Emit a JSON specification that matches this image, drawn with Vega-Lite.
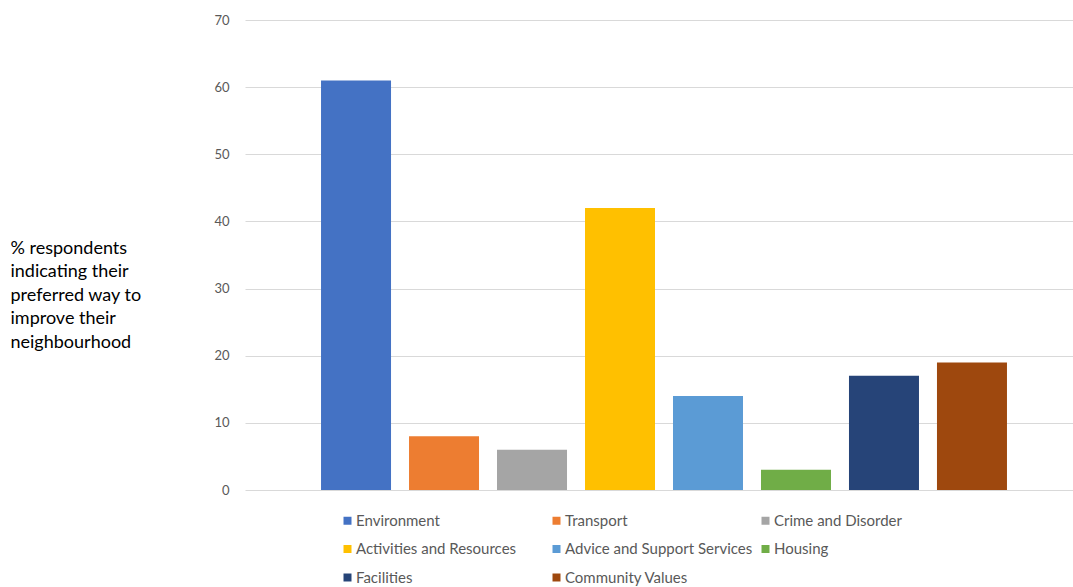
{
  "$schema": "https://vega.github.io/schema/vega-lite/v6.json",
  "width": 828,
  "height": 470,
  "autosize": {"type": "none"},
  "padding": {"left": 245, "top": 20, "right": 0, "bottom": 97},
  "background": "white",
  "config": {
    "view": {"stroke": null},
    "font": "Lato"
  },
  "data": {
    "values": [
      {"category": "Environment", "value": 61},
      {"category": "Transport", "value": 8},
      {"category": "Crime and Disorder", "value": 6},
      {"category": "Activities and Resources", "value": 42},
      {"category": "Advice and Support Services", "value": 14},
      {"category": "Housing", "value": 3},
      {"category": "Facilities", "value": 17},
      {"category": "Community Values", "value": 19}
    ]
  },
  "mark": {"type": "bar"},
  "encoding": {
    "x": {
      "field": "category",
      "type": "nominal",
      "sort": null,
      "axis": null,
      "scale": {"range": [0, 838], "paddingInner": 0.2045, "paddingOuter": 0.864}
    },
    "y": {
      "field": "value",
      "type": "quantitative",
      "scale": {"domain": [0, 70]},
      "axis": {
        "values": [0, 10, 20, 30, 40, 50, 60, 70],
        "grid": true,
        "gridColor": "#d9d9d9",
        "domain": false,
        "ticks": false,
        "labelPadding": 16,
        "labelFontSize": 13,
        "labelColor": "#595959",
        "title": ["% respondents", "indicating their", "preferred way to", "improve their", "neighbourhood"],
        "titleAngle": 0,
        "titleAlign": "left",
        "titleBaseline": "top",
        "titleX": -235,
        "titleY": 219,
        "titleFontSize": 18,
        "titleFontWeight": "normal",
        "titleColor": "#000000",
        "titleLineHeight": 23.6
      }
    },
    "color": {
      "field": "category",
      "type": "nominal",
      "scale": {
        "domain": ["Environment", "Activities and Resources", "Facilities", "Transport", "Advice and Support Services", "Community Values", "Crime and Disorder", "Housing"],
        "range": ["#4472C4", "#FFC000", "#264478", "#ED7D31", "#5B9BD5", "#9E480E", "#A5A5A5", "#70AD47"]
      },
      "legend": {
        "title": null,
        "orient": "none",
        "legendX": 95,
        "legendY": 493,
        "columns": 3,
        "gridAlign": "all",
        "columnPadding": 5,
        "rowPadding": 12.5,
        "symbolType": "square",
        "symbolSize": 64,
        "symbolStrokeWidth": 0,
        "labelFontSize": 15,
        "labelColor": "#595959",
        "labelOffset": 1,
        "labelLimit": 400
      }
    }
  }
}
